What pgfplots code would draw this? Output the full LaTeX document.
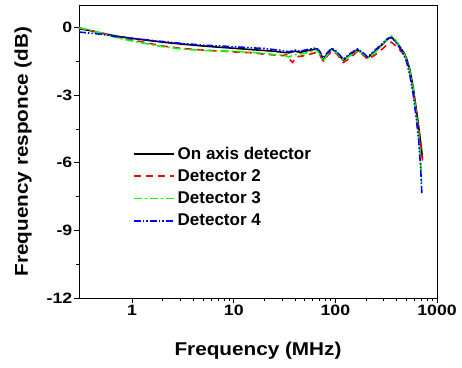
\documentclass[border=0pt]{standalone}
\usepackage{fontspec}
\setmainfont{Liberation Sans}
\newfontfamily\tickfont{Liberation Sans}[FakeStretch=1.18]
\newfontfamily\labfont{Liberation Sans}[FakeStretch=1.12]
\usepackage{pgfplots}
\pgfplotsset{compat=1.18}
\begin{document}
\begin{tikzpicture}
\useasboundingbox (-79bp,-70bp) rectangle (383bp,298bp);
\begin{axis}[
  at={(0,0)}, anchor=south west,
  width=358bp, height=293bp, scale only axis,
  xmode=log, xmin=0.3, xmax=1000,
  ymin=-12, ymax=1,
  xtick={1,10,100,1000}, xticklabels={1,10,100,1000},
  ytick={-12,-9,-6,-3,0}, minor ytick={-10.5,-7.5,-4.5,-1.5},
  /pgf/number format/assume math mode=true,
  yticklabels={-12,-9,-6,-3,0},
  tick align=outside, xtick pos=bottom, ytick pos=left,
  major tick length=5bp, minor tick length=3bp,
  every tick/.style={black, line width=0.8pt},
  axis line style={line width=0.9pt},
  ticklabel style={font=\tickfont\bfseries\fontsize{15bp}{18bp}\selectfont},
  xticklabel style={inner sep=1.5bp},
  yticklabel style={inner sep=1.5bp},
  xlabel={\labfont\bfseries\fontsize{18.5bp}{22bp}\selectfont Frequency (MHz)},
  ylabel={\labfont\bfseries\fontsize{18.5bp}{22bp}\selectfont Frequency responce (dB)},
  xlabel style={at={(axis description cs:0.5,0)}, anchor=center, yshift=-53bp},
  ylabel style={at={(axis description cs:0,0.5)}, anchor=center, yshift=56bp},
  legend style={at={(rel axis cs:0.15,0.517)}, anchor=north west, draw=none,
    font=\bfseries\fontsize{17bp}{20bp}\selectfont, row sep=9bp, inner sep=0pt,
    nodes={inner xsep=3bp, inner ysep=0pt}},
  legend cell align=left,
  legend image code/.code={\draw[mark repeat=2,mark phase=2,line width=1.8pt,#1] plot coordinates {(0bp,0bp) (20bp,0bp) (40bp,0bp)};},
  every axis plot/.append style={line width=1.6pt},
]
\addplot[color=black, solid] coordinates {
(0.3,-0.05)(0.4,-0.15)(0.5,-0.25)(0.7,-0.38)(1,-0.48)(1.5,-0.58)(2,-0.65)(3,-0.73)
(5,-0.82)(7,-0.87)(10,-0.92)(15,-0.98)(20,-1.02)(25,-1.05)(30,-1.1)(35,-1.12)
(40,-1.05)(45,-1.1)(50,-1.05)(57,-1.0)(65,-0.95)(70,-1.1)(76,-1.45)(82,-1.2)
(92,-0.95)(102,-1.1)(120,-1.45)(140,-1.2)(165,-0.98)(185,-1.15)(207,-1.35)(240,-1.1)
(290,-0.75)(330,-0.5)(355,-0.42)(390,-0.6)(430,-0.85)(470,-1.1)(500,-1.35)(540,-1.85)
(580,-2.6)(620,-3.5)(660,-4.4)(700,-5.3)(720,-5.8)};
\addlegendentry{On axis detector}
\addplot[color=red, dash pattern=on 7bp off 5bp] coordinates {
(0.3,-0.02)(0.5,-0.25)(0.7,-0.42)(1,-0.55)(2,-0.82)(3,-0.92)(5,-1.0)(10,-1.08)
(15,-1.12)(20,-1.18)(25,-1.22)(30,-1.25)(33,-1.2)(36,-1.45)(38,-1.55)(41,-1.3)
(50,-1.25)(60,-1.15)(65,-1.1)(70,-1.2)(76,-1.5)(82,-1.3)(92,-1.05)(102,-1.15)
(120,-1.55)(140,-1.35)(165,-1.05)(185,-1.2)(207,-1.4)(240,-1.25)(290,-0.95)(330,-0.72)
(355,-0.65)(390,-0.8)(430,-1.0)(470,-1.2)(500,-1.45)(540,-2.0)(580,-2.75)(620,-3.6)
(660,-4.5)(700,-5.4)(720,-5.9)};
\addlegendentry{Detector 2}
\addplot[color=green, dash pattern=on 8bp off 3bp on 2bp off 3bp] coordinates {
(0.3,0.0)(0.5,-0.25)(0.7,-0.45)(1,-0.6)(2,-0.85)(3,-0.95)(5,-1.02)(10,-1.05)
(15,-1.1)(20,-1.15)(25,-1.2)(30,-1.22)(35,-1.3)(40,-1.2)(50,-1.15)(60,-1.05)
(65,-1.0)(70,-1.15)(76,-1.5)(82,-1.25)(92,-0.98)(102,-1.1)(120,-1.45)(140,-1.25)
(165,-1.0)(185,-1.15)(207,-1.35)(240,-1.15)(290,-0.75)(330,-0.45)(355,-0.38)(390,-0.55)
(430,-0.85)(470,-1.15)(500,-1.4)(540,-1.95)(580,-2.7)(620,-3.7)(660,-4.8)(690,-5.9)
(705,-6.9)};
\addlegendentry{Detector 3}
\addplot[color=blue, dash pattern=on 7bp off 2bp on 1.5bp off 2bp on 1.5bp off 2bp] coordinates {
(0.3,-0.2)(0.5,-0.3)(0.7,-0.4)(1,-0.48)(2,-0.62)(3,-0.7)(5,-0.78)(10,-0.85)
(15,-0.9)(20,-0.93)(25,-0.98)(30,-1.02)(35,-1.08)(40,-1.0)(45,-1.05)(50,-1.0)
(57,-0.95)(65,-0.9)(70,-1.05)(76,-1.35)(82,-1.15)(92,-0.92)(102,-1.05)(120,-1.4)
(140,-1.15)(165,-0.95)(185,-1.1)(207,-1.3)(240,-1.05)(290,-0.7)(330,-0.48)(355,-0.45)
(390,-0.62)(430,-0.9)(470,-1.2)(500,-1.5)(540,-2.1)(580,-2.9)(620,-3.9)(660,-5.0)
(690,-6.2)(710,-7.4)};
\addlegendentry{Detector 4}
\end{axis}
\end{tikzpicture}
\end{document}
